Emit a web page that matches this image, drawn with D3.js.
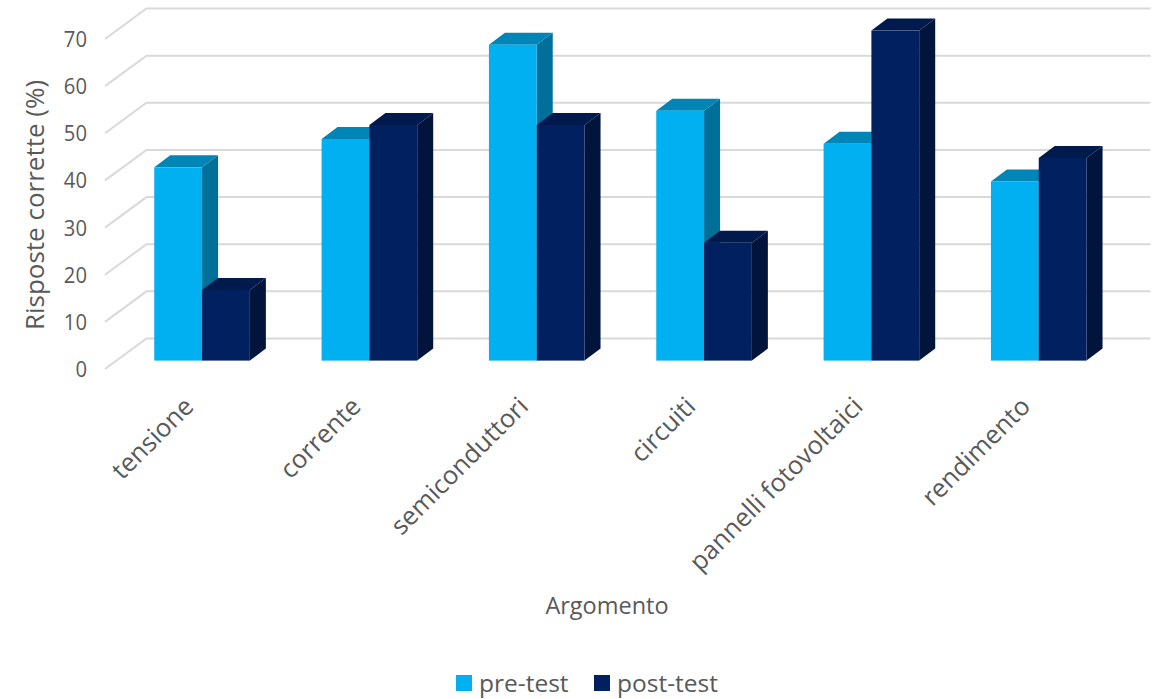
<!DOCTYPE html>
<html>
<head>
<meta charset="utf-8">
<script src="https://cdn.jsdelivr.net/npm/d3@7"></script>
<style>
  html, body { margin: 0; padding: 0; background: #fff; }
  svg { display: block; }
  text { font-family: "Open Sans", sans-serif; fill: #595959; }
</style>
</head>
<body>
<svg id="chart" width="1160" height="699"></svg>
<script>
const categories = ["tensione", "corrente", "semiconduttori", "circuiti", "pannelli fotovoltaici", "rendimento"];
const preTest = [41, 47, 67, 53, 46, 38];
const postTest = [15, 50, 50, 25, 70, 43];
const yTicks = [0, 10, 20, 30, 40, 50, 60, 70];
const seriesNames = ["pre-test", "post-test"];

const palette = {
  "pre-test": { front: "#00B0F0", top: "#0085B6", side: "#00709B" },
  "post-test": { front: "#002060", top: "#001A4E", side: "#00143C" }
};

const svg = d3.select("#chart");

// Front edge of the floor; the back wall sits up and to the right of it.
const x = d3.scaleBand().domain(categories).range([105, 1109]);
const y = d3.scaleLinear().domain([0, 70]).range([369, 39]);
const wall = { dx: 41.5, dy: -30.5 };

// Bars stand part-way into the floor and have a fixed extrusion.
const barShift = { dx: 13.4, dy: -8.4 };
const depth = { dx: 16, dy: -12 };
const barWidth = x.bandwidth() / 3.5;
const sidePad = x.bandwidth() * 0.75 / 3.5;

// Gridlines: a diagonal on the side wall plus a line along the back wall.
const grid = svg.append("g").attr("fill", "none").attr("stroke", "#D9D9D9").attr("stroke-width", 2);
grid.selectAll("path").data(yTicks).join("path")
  .attr("d", v => {
    const p = d3.path();
    p.moveTo(x.range()[0], y(v));
    p.lineTo(x.range()[0] + wall.dx, y(v) + wall.dy);
    p.lineTo(x.range()[1] + wall.dx, y(v) + wall.dy);
    return p.toString();
  });

// Value axis labels, slightly condensed
svg.append("g").selectAll("text").data(yTicks).join("text")
  .attr("transform", v => `translate(87,${y(v) + 8}) scale(0.92,1)`)
  .attr("text-anchor", "end")
  .attr("font-size", 22)
  .text(d => d);

// One extruded bar: side, top, then front face.
function drawBar(g, left, value, colors) {
  const x0 = left, x1 = left + barWidth;
  const yb = y(0) + barShift.dy, yt = y(value) + barShift.dy;
  const poly = pts => pts.map(q => q.join(",")).join(" ");
  g.append("polygon").attr("fill", colors.side).attr("points", poly([
    [x1, yt], [x1 + depth.dx, yt + depth.dy], [x1 + depth.dx, yb + depth.dy], [x1, yb]
  ]));
  g.append("polygon").attr("fill", colors.top).attr("points", poly([
    [x0, yt], [x0 + depth.dx, yt + depth.dy], [x1 + depth.dx, yt + depth.dy], [x1, yt]
  ]));
  g.append("rect").attr("fill", colors.front)
    .attr("x", x0).attr("y", yt).attr("width", barWidth).attr("height", yb - yt);
}

const bars = svg.append("g");
categories.forEach((c, i) => {
  const start = x(c) + sidePad + barShift.dx;
  const g = bars.append("g");
  drawBar(g, start, preTest[i], palette["pre-test"]);
  drawBar(g, start + barWidth, postTest[i], palette["post-test"]);
});

// Category labels, rotated and anchored at their end
svg.append("g").selectAll("text").data(categories).join("text")
  .attr("transform", c => `translate(${x(c) + sidePad + barShift.dx + barWidth - 7},${408}) rotate(-45)`)
  .attr("text-anchor", "end")
  .attr("font-size", 25.5)
  .text(d => d);

// Axis titles
svg.append("text")
  .attr("transform", "translate(44,205) rotate(-90)")
  .attr("text-anchor", "middle")
  .attr("font-size", 26)
  .text("Risposte corrette (%)");

svg.append("text")
  .attr("x", 607).attr("y", 614)
  .attr("text-anchor", "middle")
  .attr("font-size", 23.5)
  .text("Argomento");

// Legend
const legendX = d3.scaleOrdinal().domain(seriesNames).range([456, 594]);
const legend = svg.append("g").selectAll("g").data(seriesNames).join("g")
  .attr("transform", d => `translate(${legendX(d)},675)`);
legend.append("rect").attr("width", 16).attr("height", 16).attr("fill", d => palette[d].front);
legend.append("text").attr("x", 23).attr("y", 16.5).attr("font-size", 24.5).text(d => d);
</script>
</body>
</html>
